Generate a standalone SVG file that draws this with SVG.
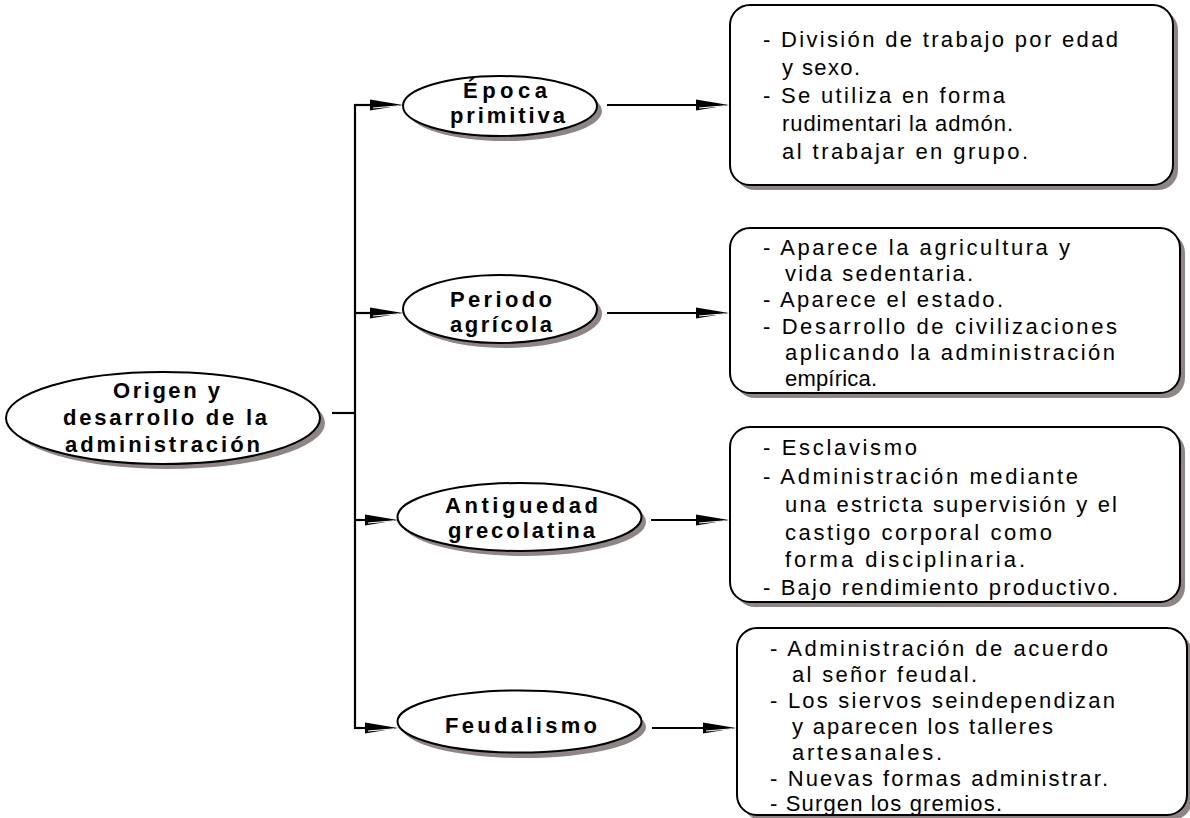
<svg xmlns="http://www.w3.org/2000/svg" width="1190" height="818" viewBox="0 0 1190 818">
<style>
.sh{fill:#8f8585;stroke:none}
.nd{fill:#fff;stroke:#000;stroke-width:2}
.ln{stroke:#000;stroke-width:2.2;fill:none}
.ah{fill:#000;stroke:none}
.hl{stroke:#fff;stroke-width:1;fill:none}
.t{font-family:"Liberation Sans",Arial,sans-serif;font-size:22px;font-weight:bold;fill:#000}
.b{font-family:"Liberation Sans",Arial,sans-serif;font-size:22px;fill:#000}
</style>
<defs>
<g id="arr"><polygon class="ah" points="0,0 -33,-5.5 -33,5.5"/><line class="hl" x1="-30" y1="3" x2="-4" y2="0.8"/></g>
</defs>
<rect width="1190" height="818" fill="#fff"/>
<g id="connectors">
<line class="ln" x1="332" y1="413" x2="355" y2="413"/>
<line class="ln" x1="355" y1="104" x2="355" y2="729"/>
<line class="ln" x1="354" y1="105" x2="375" y2="105"/>
<use href="#arr" x="403" y="105"/>
<line class="ln" x1="354" y1="313" x2="375" y2="313"/>
<use href="#arr" x="403" y="313"/>
<line class="ln" x1="354" y1="520" x2="370" y2="520"/>
<use href="#arr" x="398" y="520"/>
<line class="ln" x1="354" y1="728" x2="370" y2="728"/>
<use href="#arr" x="398" y="728"/>
<line class="ln" x1="607" y1="105" x2="700" y2="105"/>
<use href="#arr" x="729" y="105"/>
<line class="ln" x1="607" y1="313" x2="700" y2="313"/>
<use href="#arr" x="729" y="313"/>
<line class="ln" x1="651" y1="520" x2="700" y2="520"/>
<use href="#arr" x="729" y="520"/>
<line class="ln" x1="652" y1="728" x2="708" y2="728"/>
<use href="#arr" x="736" y="728"/>
</g>
<g id="n-origen">
<ellipse class="sh" cx="168" cy="423" rx="157" ry="46"/>
<ellipse class="nd" cx="163" cy="418" rx="157" ry="46"/>
<text class="t" x="113" y="398" textLength="107" lengthAdjust="spacing">Origen y</text>
<text class="t" x="63" y="425" textLength="204" lengthAdjust="spacing">desarrollo de la</text>
<text class="t" x="65" y="452" textLength="195" lengthAdjust="spacing">administración</text>
</g>
<g id="n-primitiva">
<ellipse class="sh" cx="505" cy="111" rx="97" ry="30"/>
<ellipse class="nd" cx="500" cy="106" rx="97" ry="30"/>
<text class="t" x="463" y="98" textLength="84" lengthAdjust="spacing">Época</text>
<text class="t" x="450" y="123" textLength="115" lengthAdjust="spacing">primitiva</text>
</g>
<g id="n-agricola">
<ellipse class="sh" cx="505" cy="314" rx="97" ry="34"/>
<ellipse class="nd" cx="500" cy="309" rx="97" ry="34"/>
<text class="t" x="450" y="307" textLength="102" lengthAdjust="spacing">Periodo</text>
<text class="t" x="450" y="332" textLength="102" lengthAdjust="spacing">agrícola</text>
</g>
<g id="n-grecolatina">
<ellipse class="sh" cx="524" cy="522" rx="122" ry="34"/>
<ellipse class="nd" cx="519.5" cy="517" rx="122" ry="34"/>
<text class="t" x="445" y="513" textLength="153" lengthAdjust="spacing">Antiguedad</text>
<text class="t" x="448" y="538" textLength="147" lengthAdjust="spacing">grecolatina</text>
</g>
<g id="n-feudalismo">
<ellipse class="sh" cx="524" cy="727" rx="122" ry="31"/>
<ellipse class="nd" cx="519.5" cy="721.5" rx="122" ry="31"/>
<text class="t" x="445" y="733" textLength="152" lengthAdjust="spacing">Feudalismo</text>
</g>
<g id="box1">
<rect class="sh" x="735" y="10" width="443" height="180" rx="20"/>
<rect class="nd" x="730" y="5" width="443" height="180" rx="20"/>
<text class="b" x="763" y="47" textLength="355" lengthAdjust="spacing">- División de trabajo por edad</text>
<text class="b" x="782" y="75" textLength="78" lengthAdjust="spacing">y sexo.</text>
<text class="b" x="763" y="103" textLength="242" lengthAdjust="spacing">- Se utiliza en forma</text>
<text class="b" x="782" y="131" textLength="231" lengthAdjust="spacing">rudimentari la admón.</text>
<text class="b" x="782" y="159" textLength="246" lengthAdjust="spacing">al trabajar en grupo.</text>
</g>
<g id="box2">
<rect class="sh" x="735" y="233" width="450" height="165" rx="20"/>
<rect class="nd" x="730" y="228" width="450" height="165" rx="20"/>
<text class="b" x="763" y="255" textLength="307" lengthAdjust="spacing">- Aparece la agricultura y</text>
<text class="b" x="785" y="281" textLength="188" lengthAdjust="spacing">vida sedentaria.</text>
<text class="b" x="763" y="307" textLength="240" lengthAdjust="spacing">- Aparece el estado.</text>
<text class="b" x="763" y="334" textLength="354" lengthAdjust="spacing">- Desarrollo de civilizaciones</text>
<text class="b" x="785" y="360" textLength="330" lengthAdjust="spacing">aplicando la administración</text>
<text class="b" x="785" y="386" textLength="92" lengthAdjust="spacing">empírica.</text>
</g>
<g id="box3">
<rect class="sh" x="735" y="432" width="450" height="175" rx="20"/>
<rect class="nd" x="730" y="427" width="450" height="175" rx="20"/>
<text class="b" x="763" y="455" textLength="154" lengthAdjust="spacing">- Esclavismo</text>
<text class="b" x="763" y="484" textLength="315" lengthAdjust="spacing">- Administración mediante</text>
<text class="b" x="785" y="512" textLength="332" lengthAdjust="spacing">una estricta supervisión y el</text>
<text class="b" x="785" y="540" textLength="267" lengthAdjust="spacing">castigo corporal como</text>
<text class="b" x="785" y="567" textLength="240" lengthAdjust="spacing">forma disciplinaria.</text>
<text class="b" x="763" y="595" textLength="355" lengthAdjust="spacing">- Bajo rendimiento productivo.</text>
</g>
<g id="box4">
<rect class="sh" x="742" y="633" width="450" height="187" rx="20"/>
<rect class="nd" x="737" y="628" width="450" height="187" rx="20"/>
<text class="b" x="770" y="656" textLength="338" lengthAdjust="spacing">- Administración de acuerdo</text>
<text class="b" x="792" y="682" textLength="185" lengthAdjust="spacing">al señor feudal.</text>
<text class="b" x="770" y="708" textLength="345" lengthAdjust="spacing">- Los siervos seindependizan</text>
<text class="b" x="792" y="734" textLength="261" lengthAdjust="spacing">y aparecen los talleres</text>
<text class="b" x="792" y="760" textLength="150" lengthAdjust="spacing">artesanales.</text>
<text class="b" x="770" y="786" textLength="338" lengthAdjust="spacing">- Nuevas formas administrar.</text>
<text class="b" x="770" y="811" textLength="232" lengthAdjust="spacing">- Surgen los gremios.</text>
</g>
</svg>
